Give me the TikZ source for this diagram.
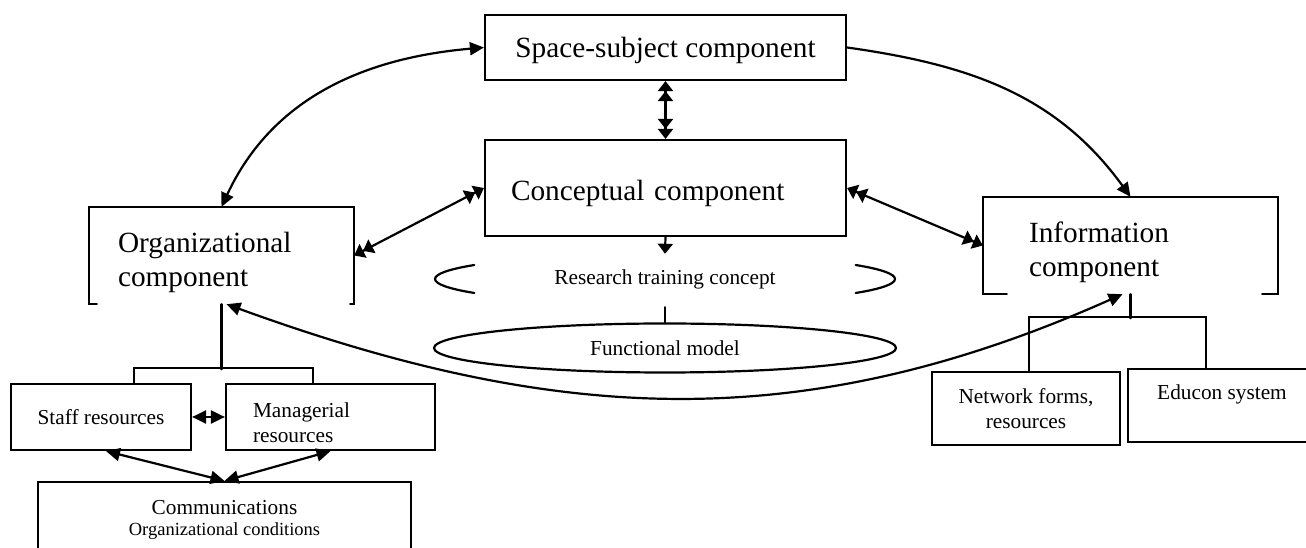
\documentclass[tikz,border=0pt]{standalone}
\usepackage{fontspec}
\setmainfont{Liberation Serif}
\usetikzlibrary{arrows.meta}
\usetikzlibrary{shapes.geometric}

\begin{document}
\begin{tikzpicture}[x=1pt, y=1pt, line cap=round,
    box/.style={draw, line width=2.2pt, inner sep=0pt},
    big/.style={font=\fontsize{29.3}{34}\selectfont},
    small/.style={font=\fontsize{21.3}{25}\selectfont},
    link/.style={line width=2.2pt},
    arr/.tip={Triangle[length=14pt, width=13pt]},
    arrone/.tip={Triangle[length=10pt, width=15pt]},
    arrtwo/.tip={Triangle[length=10pt, width=15pt] Triangle[length=10pt, width=15pt]}]

    \useasboundingbox (0,0) rectangle (1306,548);

    % main components
    \node[box, big, minimum width=361, minimum height=65, text height=26, text depth=6.5] (space) at (665.5,500.5) {Space-subject component};
    \node[box, big, minimum width=361, minimum height=96, text width=309, align=left, text height=32, text depth=6.5] (concept) at (665.5,360) {Conceptual component};
    \node[big, inner sep=0pt, minimum width=265, minimum height=97, text width=207, align=left] (org) at (221.5,292.5) {\rule{0pt}{35pt}Organizational\\component};
    \node[big, inner sep=0pt, minimum width=295, minimum height=97, text width=203, align=left] (info) at (1130.5,302.5) {\rule{0pt}{35pt}Information\\component};
    \draw[link] ([xshift=8]org.south west) -- (org.south west) -- (org.north west) -- (org.north east) -- (org.south east) -- ([xshift=-4]org.south east);
    \draw[link] ([xshift=24]info.south west) -- (info.south west) -- (info.north west) -- (info.north east) -- (info.south east) -- ([xshift=-16]info.south east);

    % concept and model
    \node[small, ellipse, inner sep=0pt, minimum width=460, minimum height=50] (research) at (665,269) {Research training concept};
    \draw[link] ([shift={(146:230 and 25)}]research.center) arc[start angle=146, end angle=214, x radius=230, y radius=25];
    \draw[link] ([shift={(-34:230 and 25)}]research.center) arc[start angle=-34, end angle=34, x radius=230, y radius=25];
    \node[small, ellipse, draw, line width=2.2pt, inner sep=0pt, minimum width=462, minimum height=49] (functional) at (665,200) {Functional model};

    % resources
    \node[box, small, minimum width=180, minimum height=66] (staff) at (101,131) {Staff resources};
    \node[box, small, minimum width=209, minimum height=66, text width=155, align=left] (manag) at (330.5,131) {\rule{0pt}{27pt}Managerial\\resources};
    \node[box, small, minimum width=373, minimum height=82, align=center, text depth=10] (comm) at (224.5,25) {Communications\\[-4pt]{\fontsize{18.5}{22}\selectfont Organizational conditions}};
    \node[box, small, minimum width=188, minimum height=73, align=center] (network) at (1026,139.5) {Network forms,\\resources};
    \node[box, minimum width=184, minimum height=73] (educon) at (1220,142.5) {};
    \node[small] (educontext) at (1222,154) {Educon system};

    % tree lines
    \draw[link] (org.south) -- ++(0,-65);
    \draw[link] ([xshift=33]staff.north) -- ++(0,15) -- ([xshift=-17.5, yshift=15]manag.north) -- ([xshift=-17.5]manag.north);
    \draw[link] (info.south) -- ++(0,-24);
    \draw[link] ([xshift=3]network.north) -- ++(0,54) -- ([xshift=-14, yshift=51]educon.north) -- ([xshift=-14]educon.north);
    \draw[link] ([yshift=-3]research.south) -- (functional.north);

    % arrows
    \draw[link, {arr}-{arr}] (org.north) to[out=65, in=185] (space.west);
    \draw[link, -{arr}] (space.east) to[out=-8, in=126] (info.north);
    \draw[link, {arrtwo}-{arrtwo}] (space.south) -- (concept.north);
    \draw[link, {arrtwo}-{arrtwo}] (org.east) -- (concept.west);
    \draw[link, {arrtwo}-{arrtwo}] (concept.east) -- (info.west);
    \draw[link, -{arrone}] (concept.south) -- (research.north);
    \draw[link, {arr}-{arr}] ([xshift=5]org.south) to[out=-20, in=204] ([xshift=-8]info.south);
    \draw[link, {arr}-{arr}] (staff.east) -- (manag.west);
    \draw[link, {arr}-{arr}] ([xshift=5]staff.south) -- (comm.north);
    \draw[link, {arr}-{arr}] (manag.south) -- (comm.north);
\end{tikzpicture}
\end{document}
